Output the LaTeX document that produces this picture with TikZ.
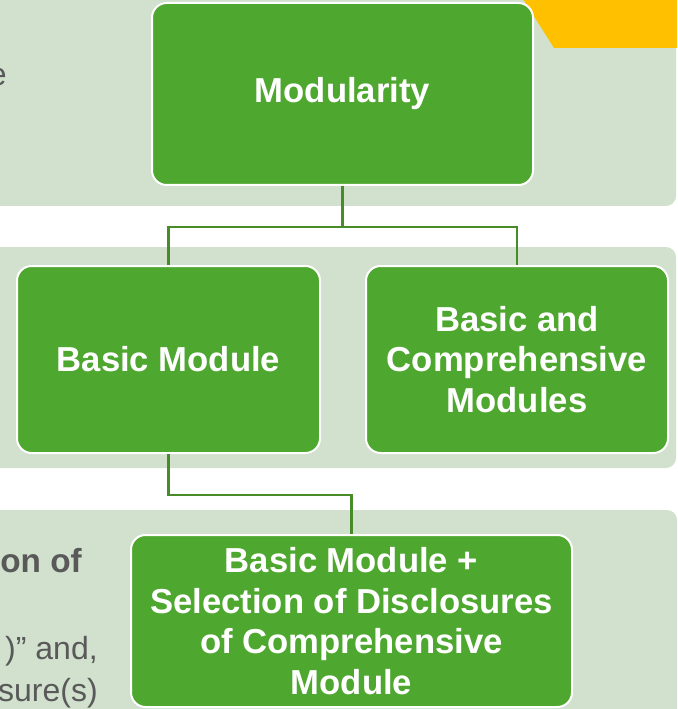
\documentclass[tikz,border=0pt]{standalone}
\usepackage{fontspec}
\setmainfont{Liberation Sans}
\usepackage{tikz}

\definecolor{bandgreen}{RGB}{209,225,206}
\definecolor{boxgreen}{RGB}{78,167,46}
\definecolor{linegreen}{RGB}{72,140,42}
\definecolor{tabgold}{RGB}{255,192,0}
\definecolor{notegray}{RGB}{89,89,89}

\tikzset{
  modbox/.style={draw=white, line width=1.5pt, fill=boxgreen, rounded corners=11pt, text=white, align=center, inner sep=0pt, font=\fontsize{26}{30.5}\selectfont\bfseries},
  link/.style={draw=linegreen, line width=1.6pt},
  note/.style={text=notegray, inner sep=0pt, font=\fontsize{24}{29}\selectfont},
}

\begin{document}
\begin{tikzpicture}[x=0.75pt,y=0.75pt,yscale=-1,xscale=1]
\useasboundingbox (0,0) rectangle (677,709);
\clip (0,0) rectangle (677,709);

%Bands
\fill [bandgreen, rounded corners=7.5pt] (-30,-30) rectangle (676,206);
\fill [bandgreen, rounded corners=7.5pt] (-30,247) rectangle (676,468);
\fill [bandgreen, rounded corners=7.5pt] (-30,510) rectangle (677,740);

%Tab in the corner
\fill [tabgold] (523,-1) -- (554,48) -- (678,48) -- (678,-1) -- cycle;

% Cut off notes on the left
\node [note, anchor=base east] (noteA) at (7,86) {e};
\node [note, anchor=base east, font=\fontsize{25}{29}\selectfont\bfseries] (noteB) at (82,572) {on of};
\node [note, anchor=base east] (noteC) at (98,659) {)” and,};
\node [note, anchor=base east] (noteD) at (98,701) {sure(s)};

% Boxes
\node [modbox, minimum width=285.75pt, minimum height=136.5pt] (mod) at (342.5,94) {Modularity};
\node [modbox, minimum width=227.25pt, minimum height=140.25pt] (basic) at (168.5,359.5) {Basic Module};
\node [modbox, minimum width=226.5pt, minimum height=140.25pt] (both) at (517,359.5) {Basic and\\Comprehensive\\Modules};
\node [modbox, minimum width=330.75pt, minimum height=129pt] (sel) at (351.5,621) {Basic Module +\\Selection of Disclosures\\of Comprehensive\\Module};

%Connectors
\coordinate (split1) at (342.5,227);
\coordinate (split2) at (351.5,495);
\draw [link] (mod.south) -- (split1) -| (basic.north);
\draw [link] (split1) -| (both.north);
\draw [link] (basic.south) |- (split2) -- (sel.north);

\end{tikzpicture}
\end{document}
